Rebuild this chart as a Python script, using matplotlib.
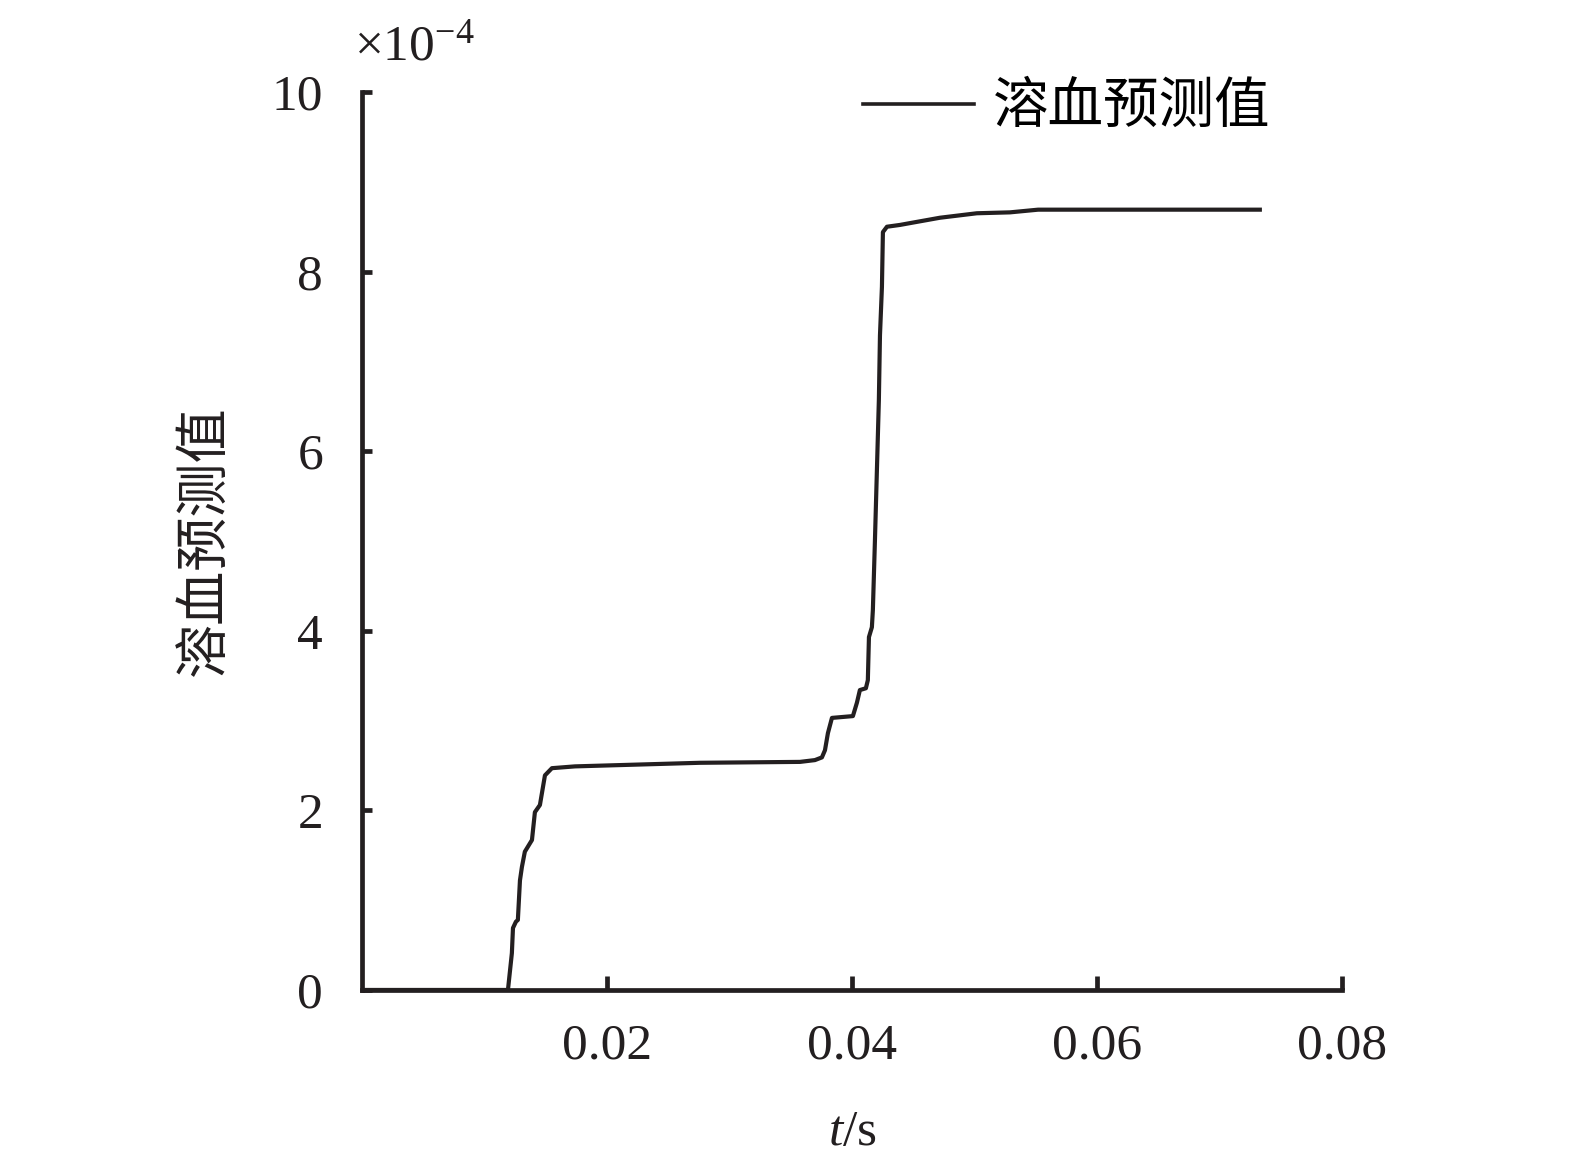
import numpy as np
import matplotlib
matplotlib.use('Agg')
import matplotlib.pyplot as plt

plt.rcParams['font.family'] = ['Liberation Serif', 'Noto Sans CJK SC']
plt.rcParams['mathtext.fontset'] = 'custom'
plt.rcParams['mathtext.rm'] = 'Liberation Serif'
plt.rcParams['mathtext.it'] = 'Liberation Serif:italic'

# hemolysis prediction curve, values in units of 1e-4
t = [0.0, 0.01192, 0.01224, 0.01233, 0.01257, 0.01273, 0.0129, 0.01306, 0.0133,
     0.01388, 0.01412, 0.01453, 0.01494, 0.01551, 0.01739, 0.02759, 0.03576,
     0.03698, 0.03755, 0.0378, 0.03804, 0.03837, 0.04008, 0.04041, 0.04065,
     0.04114, 0.0413, 0.04139, 0.04163, 0.04171, 0.04188, 0.04204, 0.0422,
     0.04229, 0.04245, 0.04253, 0.04286, 0.04392, 0.04473, 0.04718, 0.0502,
     0.0529, 0.0552, 0.0733]
hem = [0.0, 0.0, 0.41, 0.69, 0.76, 0.78, 1.22, 1.37, 1.54,
       1.67, 1.98, 2.06, 2.39, 2.47, 2.49, 2.53, 2.54,
       2.56, 2.59, 2.67, 2.86, 3.03, 3.05, 3.20, 3.34,
       3.36, 3.45, 3.93, 4.04, 4.23, 5.01, 5.79, 6.57,
       7.29, 7.83, 8.44, 8.50, 8.52, 8.54, 8.60, 8.65,
       8.66, 8.69, 8.69]
xticks = [0.02, 0.04, 0.06, 0.08]
yticks = [0, 2, 4, 6, 8, 10]

cjk = ['Noto Sans CJK SC', 'Liberation Serif']
ink = '#231f20'

fig = plt.figure(figsize=(15.75, 11.71), dpi=100)
ax = fig.add_axes([0.2298, 0.1546, 0.6222, 0.7668])
ax.plot(t, hem, color=ink, lw=3.0, label='溶血预测值')
ax.set_xlim(0, 0.08)
ax.set_ylim(0, 10)
ax.set_xticks(xticks)
ax.set_xticklabels(['0.02', '0.04', '0.06', '0.08'])
ax.set_yticks(yticks)
ax.spines['top'].set_visible(False)
ax.spines['right'].set_visible(False)
for s in ['left', 'bottom']:
    ax.spines[s].set_linewidth(3.4)
    ax.spines[s].set_color(ink)
ax.tick_params(axis='x', direction='in', length=10, width=3.4, pad=24, labelsize=37, colors=ink)
ax.tick_params(axis='y', direction='in', length=7, width=3.4, pad=28, labelsize=37, colors=ink)

ax.set_xlabel('$t$/s', fontsize=37, color=ink)
ax.xaxis.set_label_coords(0.5, -0.133)
ax.set_ylabel('溶血预测值', fontsize=39, family=cjk, color=ink)
ax.yaxis.set_label_coords(-0.133, 0.5)

ax.text(-0.008, 1.024, r'$\times10^{-4}$', transform=ax.transAxes, fontsize=37,
        ha='left', va='bottom', color=ink)

leg = ax.legend(loc='center left', bbox_to_anchor=(0.511, 0.983), frameon=False,
                borderpad=0, borderaxespad=0, handlelength=2.0, handletextpad=0.35,
                prop={'family': cjk, 'size': 40})
for line in leg.get_lines():
    line.set_linewidth(2.6)

fig.savefig('out.png', dpi=100)
